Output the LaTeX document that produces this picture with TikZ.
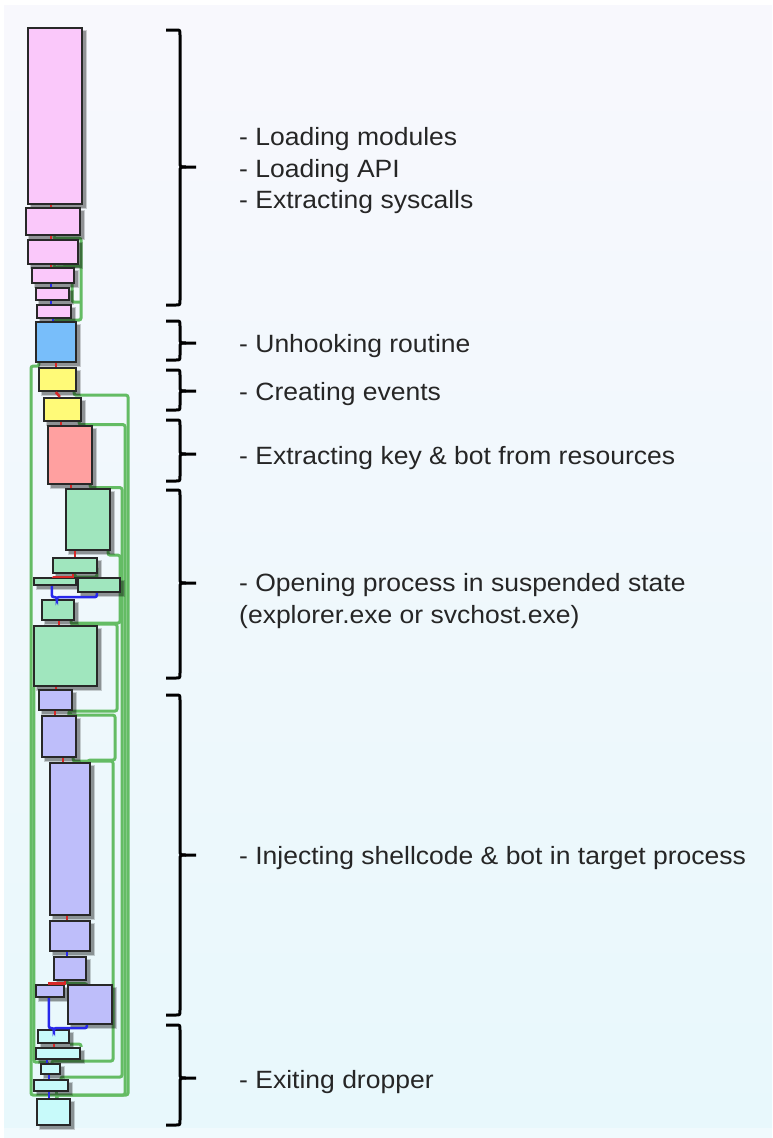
\documentclass[tikz,border=0pt]{standalone}
\usepackage{graphicx}
\usepackage{fontspec}
\setmainfont{Liberation Sans}
\usetikzlibrary{fit}
\pgfdeclarelayer{back}
\pgfdeclarelayer{edges}
\pgfsetlayers{back,edges,main}
\definecolor{bgtop}{RGB}{248,248,253}
\definecolor{bgbot}{RGB}{232,248,252}
\definecolor{bgstrip}{RGB}{240,250,253}
\definecolor{cpink}{RGB}{250,200,250}
\definecolor{cblue}{RGB}{120,190,250}
\definecolor{cyel}{RGB}{255,250,120}
\definecolor{csal}{RGB}{255,160,160}
\definecolor{cgrn}{RGB}{160,230,190}
\definecolor{cpur}{RGB}{190,190,250}
\definecolor{ccya}{RGB}{200,250,250}
\definecolor{edgeg}{RGB}{100,188,100}
\definecolor{edger}{RGB}{215,40,40}
\definecolor{edgeb}{RGB}{40,40,235}
\definecolor{bord}{RGB}{40,40,40}
\definecolor{txt}{RGB}{38,38,38}
\tikzset{
  blk/.style={draw=bord,line width=2.3pt,inner sep=0pt,minimum size=0pt},
  gc/.style={draw=edgeg,line width=3pt,rounded corners=2pt},
  rc/.style={draw=edger,line width=2.6pt},
  bc/.style={draw=edgeb,line width=2.6pt,rounded corners=2pt},
  brace/.style={draw=black,line width=3pt,line join=round},
  lab/.style={anchor=base west,inner sep=0pt,text=txt,font=\fontsize{25}{30}\selectfont},
}
\newcommand\blk[6]{%
  \fill[black,opacity=0.18] (#3+1.5,#4+1.5) rectangle (#5+5,#6+5);
  \fill[black,opacity=0.28] (#3+2.5,#4+2.5) rectangle (#5+3.5,#6+3.5);
  \path (#3,#4) coordinate (#1tl) (#5,#6) coordinate (#1br);
  \node[blk,fill=#2,fit=(#1tl)(#1br)] (#1) {};}
\newcommand\brc[3]{%
  \draw[brace] (166,#1) -- (176,#1) .. controls (180,#1) .. (180,#1+5) -- (180,#2-5) .. controls (180,#2) .. (186,#2) -- (196,#2);
  \draw[brace] (186,#2) .. controls (180,#2) .. (180,#2+5) -- (180,#3-5) .. controls (180,#3) .. (176,#3) -- (166,#3);}
\newcommand\lbl[1]{\scalebox{1.06}[1]{#1}}
\begin{document}
\begin{tikzpicture}[x=1pt,y=-1pt]
\useasboundingbox (0,0) rectangle (772,1138);
\begin{pgfonlayer}{back}
\fill[white] (0,0) rectangle (772,1138);
\shade[top color=bgtop,bottom color=bgbot] (4,5) rectangle (772,1128);
\fill[bgstrip] (4,1128) rectangle (772,1138);
\end{pgfonlayer}

% blocks
\blk{b1}{cpink}{28}{28}{82}{204}
\blk{b2}{cpink}{26}{208}{80}{235}
\blk{b3}{cpink}{28}{240}{78}{264}
\blk{b4}{cpink}{32}{268}{74}{283}
\blk{b5}{cpink}{36}{288}{69}{300}
\blk{b6}{cpink}{37}{305}{71}{318}
\blk{b7}{cblue}{36}{322}{76}{362}
\blk{b8}{cyel}{39}{368}{76}{391}
\blk{b9}{cyel}{44}{398}{81}{421}
\blk{b10}{csal}{48}{426}{92}{484}
\blk{b11}{cgrn}{66}{489}{110}{550}
\blk{b12}{cgrn}{53}{558}{97}{573}
\blk{b13}{cgrn}{34}{578}{76}{585}
\blk{b14}{cgrn}{78}{578}{120}{592}
\blk{b15}{cgrn}{42}{600}{74}{620}
\blk{b16}{cgrn}{34}{626}{97}{686}
\blk{b17}{cpur}{39}{690}{72}{710}
\blk{b18}{cpur}{42}{716}{76}{757}
\blk{b19}{cpur}{50}{763}{90}{915}
\blk{b20}{cpur}{50}{921}{90}{951}
\blk{b21}{cpur}{54}{957}{86}{980}
\blk{b22}{cpur}{36}{985}{64}{997}
\blk{b23}{cpur}{68}{985}{112}{1024}
\blk{b24}{ccya}{38}{1030}{69}{1043}
\blk{b25}{ccya}{36}{1048}{80}{1059}
\blk{b26}{ccya}{41}{1064}{60}{1074}
\blk{b27}{ccya}{34}{1080}{68}{1091}
\blk{b28}{ccya}{37}{1099}{70}{1125}

\begin{pgfonlayer}{edges}
% green branch edges
\draw[gc] ([xshift=29pt]b2.south west) -- ++(0,2) -| (81,320) -| ([xshift=20pt]b7.north west);
\draw[gc] ([xshift=27pt]b3.south west) -- ++(0,2) -- (81,266);
\draw[gc] ([xshift=-3pt]b4.south east) |- (81,302);
\draw[gc] ([xshift=4pt]b7.south west) -- ++(0,3) -| (31,1095) -| ([xshift=21pt]b28.north west);
\draw[gc] ([xshift=-3pt]b8.south east) -- ++(0,3) -| (128,1095) -| ([xshift=21pt]b28.north west);
\draw[gc] ([xshift=-3pt]b9.south east) -- ++(0,2.5) -| (125,1095) -| ([xshift=21pt]b28.north west);
\draw[gc] ([xshift=-3pt]b10.south east) -- ++(0,2.5) -| (122,1077) -| ([xshift=28pt]b27.north west);
\draw[gc] ([xshift=-3pt]b11.south east) -- ++(0,4) -| (120,623) -| ([xshift=40pt]b16.north west);
\draw[gc] ([xshift=-4pt]b15.south east) -- ++(0,3) -| (117,711) -| ([xshift=28pt]b18.north west);
\draw[gc] ([xshift=-3pt]b17.south east) -- ++(0,4) -| (115,760) -| ([xshift=-3pt]b19.north east);
\draw[gc] ([xshift=-4pt]b18.south east) -- ++(0,3) -| (113,1061) -| ([xshift=12pt]b26.north west);
\draw[gc] ([xshift=1pt]b16.south west) -- ++(0,375) -| ([xshift=8pt]b26.north west);
\draw[gc] ([xshift=23pt]b12.south west) -- ++(0,3) -| ([xshift=20pt]b14.north west);
\draw[gc] ([xshift=14pt]b21.south west) -- ++(0,2.5) -| ([xshift=20pt]b23.north west);
\draw[gc] (b24.south east) -- ++(11,0) -- (b25.north east);
\draw[gc] ([xshift=24pt]b27.south west) -- ([xshift=21pt]b28.north west);
\end{pgfonlayer}

% red / blue connectors
\draw[rc] ([xshift=24pt]b1.south west) -- ([xshift=26pt]b2.north west);
\draw[rc] ([xshift=26pt]b2.south west) -- ([xshift=24pt]b3.north west);
\draw[rc] ([xshift=24pt]b3.south west) -- ([xshift=20pt]b4.north west);
\draw[bc] ([xshift=20pt]b4.south west) -- ([xshift=16pt]b5.north west);
\draw[bc] ([xshift=16pt]b5.south west) -- ([xshift=15pt]b6.north west);
\draw[bc] ([xshift=17pt]b6.south west) -- ([xshift=18pt]b7.north west);
\draw[rc] ([xshift=21pt]b7.south west) -- ([xshift=18pt]b8.north west);
\draw[rc] ([xshift=18pt]b8.south west) -- ([xshift=17pt]b9.north west);
\draw[rc] ([xshift=18pt]b9.south west) -- ([xshift=14pt]b10.north west);
\draw[rc] ([xshift=24pt]b10.south west) -- ([xshift=6pt]b11.north west);
\draw[rc] ([xshift=10pt]b11.south west) -- ([xshift=23pt]b12.north west);
\draw[rc] ([xshift=21pt]b12.south west) -- ++(0,3) -| ([xshift=20pt]b13.north west);
\draw[bc] ([xshift=19pt]b13.south west) -- ++(0,11) -| ([xshift=16pt]b15.north west);
\draw[bc] ([xshift=20pt]b14.south west) -- ++(0,4) -| ([xshift=16pt]b15.north west);
\draw[rc] ([xshift=18pt]b15.south west) -- ([xshift=26pt]b16.north west);
\draw[rc] ([xshift=23pt]b16.south west) -- ([xshift=18pt]b17.north west);
\draw[rc] ([xshift=17pt]b17.south west) -- ([xshift=14pt]b18.north west);
\draw[rc] ([xshift=22pt]b18.south west) -- ([xshift=14pt]b19.north west);
\draw[rc] ([xshift=18pt]b19.south west) -- ([xshift=18pt]b20.north west);
\draw[bc] ([xshift=18pt]b20.south west) -- ([xshift=14pt]b21.north west);
\draw[rc] ([xshift=12pt]b21.south west) -- ++(0,2.5) -| ([xshift=14pt]b22.north west);
\draw[bc] ([xshift=14pt]b22.south west) -- ++(0,30) -| ([xshift=17pt]b24.north west);
\draw[bc] ([xshift=20pt]b23.south west) -- ++(0,3) -| ([xshift=17pt]b24.north west);
\draw[rc] ([xshift=17pt]b24.south west) -- ([xshift=19pt]b25.north west);
\draw[bc] ([xshift=12pt]b25.south west) -- ([xshift=7pt]b26.north west);
\draw[bc] ([xshift=9pt]b26.south west) -- ([xshift=16pt]b27.north west);
\draw[bc] ([xshift=16pt]b27.south west) -- ([xshift=13pt]b28.north west);

% braces
\brc{30}{167}{305}
\brc{321}{343}{360}
\brc{370}{391}{410}
\brc{420}{454}{481}
\brc{490}{583}{678}
\brc{695}{855}{1015}
\brc{1025}{1078}{1125}

% labels
\node[lab] (t1) at (239,145) {\lbl{- Loading modules}};
\node[lab] (t2) at (239,177) {\lbl{- Loading API}};
\node[lab] (t3) at (239,208) {\lbl{- Extracting syscalls}};
\node[lab] (t4) at (239,352) {\lbl{- Unhooking routine}};
\node[lab] (t5) at (239,400) {\lbl{- Creating events}};
\node[lab] (t6) at (239,464) {\lbl{- Extracting key \& bot from resources}};
\node[lab] (t7) at (239,591) {\lbl{- Opening process in suspended state}};
\node[lab] (t8) at (239,623) {\lbl{(explorer.exe or svchost.exe)}};
\node[lab] (t9) at (239,864) {\lbl{- Injecting shellcode \& bot in target process}};
\node[lab] (t10) at (239,1088) {\lbl{- Exiting dropper}};
\end{tikzpicture}
\end{document}
